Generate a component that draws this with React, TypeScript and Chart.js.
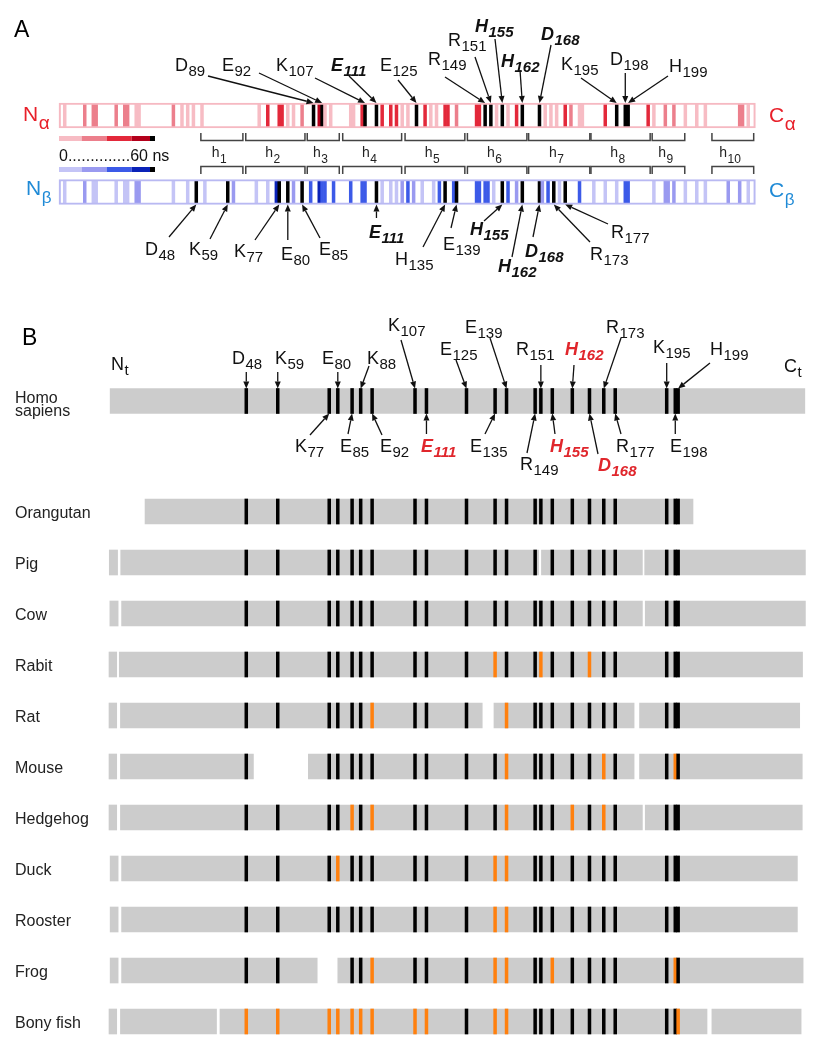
import React, { useEffect, useRef } from "react";
import { Chart, registerables } from "chart.js";

Chart.register(...registerables);

// ---------------- DATA ----------------
// Panel A: per-residue heat levels (0 = white ... 5 = black, ~0..60 ns)
const ALPHA_STRIPES: [number, number][] = [
  [2, 1], [9, 2], [12, 2], [13, 2], [20, 2], [23, 2], [24, 2], [27, 1], [28, 1], [40, 2],
  [43, 1], [45, 1], [47, 1], [50, 1], [70, 1], [73, 3], [77, 3], [78, 3], [80, 1], [82, 1],
  [85, 2], [89, 5], [91, 4], [92, 5], [93, 1], [95, 1], [102, 1], [103, 1], [106, 3], [107, 5],
  [111, 5], [113, 3], [116, 3], [118, 3], [120, 1], [122, 1], [125, 5], [128, 3], [130, 1], [132, 1],
  [135, 3], [136, 3], [139, 2], [146, 3], [147, 3], [149, 5], [151, 5], [153, 1], [155, 5], [157, 1],
  [160, 3], [162, 5], [168, 5], [170, 1], [172, 1], [174, 1], [177, 3], [179, 2], [182, 1], [183, 1],
  [191, 3], [195, 5], [198, 5], [199, 5], [206, 3], [208, 1], [212, 2], [215, 2], [219, 1], [223, 1],
  [226, 1], [238, 2], [239, 2], [241, 1],
];
const BETA_STRIPES: [number, number][] = [
  [2, 1], [9, 2], [12, 1], [13, 1], [20, 1], [23, 1], [24, 1], [27, 2], [28, 2], [40, 1],
  [45, 1], [48, 5], [51, 1], [59, 5], [61, 2], [69, 1], [73, 1], [76, 4], [77, 5], [80, 5],
  [82, 2], [85, 5], [88, 3], [91, 4], [92, 3], [93, 3], [96, 3], [102, 3], [106, 3], [107, 3],
  [111, 5], [113, 1], [116, 1], [118, 1], [120, 2], [122, 3], [124, 2], [127, 1], [131, 1], [133, 3],
  [135, 5], [138, 3], [139, 5], [146, 3], [147, 3], [149, 3], [150, 3], [152, 1], [155, 5], [157, 3],
  [160, 2], [162, 5], [168, 5], [169, 2], [171, 3], [173, 5], [175, 1], [177, 5], [182, 3], [187, 1],
  [191, 1], [195, 1], [198, 3], [199, 3], [208, 1], [212, 2], [213, 2], [215, 2], [219, 1], [223, 1],
  [226, 1], [234, 2], [238, 2], [241, 1],
];
const CHAIN_LENGTH = 243.5;
const HELIX_START = [49.6, 65.3, 86.8, 99.2, 121, 142.8, 164.2, 186, 207.4, 228.3];
const HELIX_END = [64.3, 86, 98, 119.8, 141.9, 163.6, 185.6, 206.7, 218.8, 242.9];

const A_TOP_LABELS = ["D89", "E92", "K107", "E111", "E125", "R149", "R151", "H155", "H162", "D168", "K195", "D198", "H199"];
const A_BOTTOM_LABELS = ["D48", "K59", "K77", "E80", "E85", "E111", "H135", "E139", "H155", "H162", "D168", "R173", "R177"];
const EMPHASIS = ["E111", "H155", "H162", "D168"];

// Panel B
const SPECIES = ["Homo sapiens", "Orangutan", "Pig", "Cow", "Rabit", "Rat", "Mouse", "Hedgehog", "Duck", "Rooster", "Frog", "Bony fish"];
const RESIDUES = [48, 59, 77, 80, 85, 88, 92, 107, 111, 125, 135, 139, 149, 151, 155, 162, 168, 173, 177, 195, 198, 199];
const ORANGE: number[][] = [
  [], [], [], [], [135, 151, 168], [92, 139], [139, 173, 198], [85, 92, 139, 162, 173],
  [80, 135, 139], [135, 139], [92, 135, 139, 155, 198],
  [48, 59, 77, 80, 85, 88, 92, 107, 111, 135, 139, 199],
];
const ABSENT: number[][] = [[], [], [151], [], [], [135], [59], [], [], [], [77, 80], []];
const SEGMENTS: [number, number][][] = [
  [[0.4, 243.3]],
  [[12.6, 204.2]],
  [[0.1, 3.0], [4.1, 150.2], [151.2, 186.5], [187.3, 243.5]],
  [[0.3, 3.2], [4.4, 186.5], [187.5, 243.5]],
  [[0, 2.7], [3.6, 242.5]],
  [[0, 2.7], [4, 130.5], [134.6, 183.6], [185.5, 241.5]],
  [[0, 2.7], [4, 50.5], [69.7, 183.6], [185.5, 242.4]],
  [[0, 2.7], [4, 186.5], [187.5, 242.4]],
  [[0.4, 3.2], [4.4, 240.7]],
  [[0.4, 3.2], [4.4, 240.7]],
  [[0.4, 3.2], [4.4, 72.8], [80, 242.7]],
  [[0, 2.7], [4, 37.6], [38.8, 209.1], [210.8, 242]],
];
const B_TOP_LABELS = ["D48", "K59", "E80", "K88", "K107", "E125", "E139", "R151", "H162", "R173", "K195", "H199"];
const B_BOTTOM_LABELS = ["K77", "E85", "E92", "E111", "E135", "R149", "H155", "D168", "R177", "E198"];

// ---------------- LAYOUT / STYLE ----------------
const FONT = '"Liberation Sans", Arial, Helvetica, sans-serif';
const ALPHA_COLORS = ["#ffffff", "#f7bcc4", "#ec7f8c", "#e3283a", "#b3001b", "#000000"];
const BETA_COLORS = ["#ffffff", "#c4c4f6", "#9a9af0", "#3c5ae8", "#0a22b8", "#000000"];
const ORANGE_C = "#ff800e";
const GRAY = "#cccccc";
const RED_TXT = "#e0262c";

const ROW_ALPHA = -6.765;
const ROW_BETA = -5.265;
const ROW_HOMO = -1.1667;
const rowOf = (i: number) => (i === 0 ? ROW_HOMO : i);

// label layouts: [textX, baselineY, tailX (null = vertical), tailY]
const A_TOP_LAYOUT: (number | null)[][] = [
  [175, 71, 208, 76], [222, 71, 259, 73], [276, 71, 315, 78], [331, 71, 349, 76], [380, 71, 398, 80],
  [428, 65, 445, 77], [448, 46, 475, 57], [475, 32, 495, 39], [501, 67, 520, 70], [541, 40, 551, 45],
  [561, 70, 581, 78], [610, 65, null, 73], [669, 72, 668, 76],
];
const A_BOTTOM_LAYOUT: (number | null)[][] = [
  [145, 255, 169, 237], [189, 255, 210, 239], [234, 257, 255, 240], [281, 260, null, 240], [319, 255, 320, 238],
  [369, 238, null, 218], [395, 265, 423, 247], [443, 250, 451, 228], [470, 235, 484, 221], [498, 272, 512, 257],
  [525, 257, 533, 237], [590, 260, 590, 242], [611, 238, 608, 224],
];
const B_TOP_LAYOUT: (number | null)[][] = [
  [232, 364, null, 372], [275, 364, null, 372], [322, 364, null, 372], [367, 364, 369, 366], [388, 331, 401, 340],
  [440, 355, 456, 360], [465, 333, 490, 338], [516, 355, null, 365], [565, 355, 574, 365], [606, 333, 621, 338],
  [653, 353, null, 363], [710, 355, 710, 363],
];
const B_BOTTOM_LAYOUT: (number | null)[][] = [
  [295, 452, 310, 435], [340, 452, 348, 434], [380, 452, 382, 435], [421, 452, null, 434], [470, 452, 485, 434],
  [520, 470, 527, 453], [550, 452, 555, 434], [598, 471, 598, 454], [616, 452, 621, 434], [670, 452, null, 434],
];

function resLabel(ctx: CanvasRenderingContext2D, x: number, y: number, label: string, emph: boolean, color: string) {
  const letter = label[0];
  const num = label.slice(1);
  const st = emph ? "italic bold " : "";
  ctx.fillStyle = color;
  ctx.font = `${st}18px ${FONT}`;
  ctx.fillText(letter, x, y);
  const w = ctx.measureText(letter).width;
  ctx.font = `${st}15px ${FONT}`;
  ctx.fillText(num, x + w + 0.5, y + 5);
}

function arrow(ctx: CanvasRenderingContext2D, x1: number, y1: number, x2: number, y2: number) {
  const ang = Math.atan2(y2 - y1, x2 - x1);
  const L = 7, W = 3;
  const bx = x2 - L * Math.cos(ang), by = y2 - L * Math.sin(ang);
  ctx.beginPath();
  ctx.moveTo(x1, y1);
  ctx.lineTo(bx, by);
  ctx.stroke();
  ctx.beginPath();
  ctx.moveTo(x2, y2);
  ctx.lineTo(bx + W * Math.sin(ang), by - W * Math.cos(ang));
  ctx.lineTo(bx - W * Math.sin(ang), by + W * Math.cos(ang));
  ctx.closePath();
  ctx.fill();
}

function subText(ctx: CanvasRenderingContext2D, x: number, y: number, main: string, sub: string, size: number, subSize: number, dy: number, color: string) {
  ctx.fillStyle = color;
  ctx.font = `${size}px ${FONT}`;
  ctx.fillText(main, x, y);
  const w = ctx.measureText(main).width;
  ctx.font = `${subSize}px ${FONT}`;
  ctx.fillText(sub, x + w + 0.5, y + dy);
}

const annotPlugin = {
  id: "annot",
  afterDatasetsDraw(chart: any) {
    const ctx: CanvasRenderingContext2D = chart.ctx;
    const xA = chart.scales.xA;
    const xB = chart.scales.xB;
    const y = chart.scales.y;
    ctx.save();
    ctx.textAlign = "left";
    ctx.textBaseline = "alphabetic";

    // panel letters
    ctx.fillStyle = "#000";
    ctx.font = `23px ${FONT}`;
    ctx.fillText("A", 14, 37);
    ctx.fillText("B", 22, 345);

    // chain end labels
    subText(ctx, 23, 121, "N", "\u03b1", 21, 19, 8, "#e8202a");
    subText(ctx, 769, 122, "C", "\u03b1", 21, 19, 8, "#e8202a");
    subText(ctx, 26, 195, "N", "\u03b2", 21, 17, 8, "#1f8ad6");
    subText(ctx, 769, 197, "C", "\u03b2", 21, 17, 8, "#1f8ad6");

    // colour legends
    const segW = [0, 22.7, 47.7, 72.7, 91, 96];
    for (let k = 0; k < 5; k++) {
      ctx.fillStyle = ALPHA_COLORS[k + 1];
      ctx.fillRect(59 + segW[k], 136, segW[k + 1] - segW[k], 5);
      ctx.fillStyle = BETA_COLORS[k + 1];
      ctx.fillRect(59 + segW[k], 167, segW[k + 1] - segW[k], 5);
    }
    ctx.fillStyle = "#111";
    ctx.font = `16px ${FONT}`;
    ctx.fillText("0..............60 ns", 59, 161);

    // helix brackets
    ctx.strokeStyle = "#444";
    ctx.lineWidth = 1.5;
    for (let i = 0; i < HELIX_START.length; i++) {
      const a = xA.getPixelForValue(HELIX_START[i]);
      const b = xA.getPixelForValue(HELIX_END[i]);
      ctx.beginPath();
      ctx.moveTo(a, 133); ctx.lineTo(a, 140.5); ctx.lineTo(b, 140.5); ctx.lineTo(b, 133);
      ctx.moveTo(a, 174); ctx.lineTo(a, 166.5); ctx.lineTo(b, 166.5); ctx.lineTo(b, 174);
      ctx.stroke();
      const c = (a + b) / 2;
      ctx.font = `14px ${FONT}`;
      const wh = ctx.measureText("h").width;
      ctx.font = `12px ${FONT}`;
      const ws = ctx.measureText(String(i + 1)).width;
      const left = c - (wh + ws) / 2 - 3;
      subText(ctx, left, 157, "h", String(i + 1), 14, 12, 6, "#222");
    }

    // panel A labels & arrows
    ctx.strokeStyle = "#111";
    ctx.fillStyle = "#111";
    ctx.lineWidth = 1.3;
    const aTop = y.getPixelForValue(ROW_ALPHA) - 12.5;
    const bBot = y.getPixelForValue(ROW_BETA) + 12.5;
    A_TOP_LABELS.forEach((lab, i) => {
      const [tx, ty, ax, ay] = A_TOP_LAYOUT[i];
      const r = parseInt(lab.slice(1), 10);
      const px = xA.getPixelForValue(r);
      ctx.fillStyle = "#111";
      arrow(ctx, ax === null ? px : (ax as number), ay as number, px, aTop);
      resLabel(ctx, tx as number, ty as number, lab, EMPHASIS.includes(lab), "#111");
    });
    A_BOTTOM_LABELS.forEach((lab, i) => {
      const [tx, ty, ax, ay] = A_BOTTOM_LAYOUT[i];
      const r = parseInt(lab.slice(1), 10);
      const px = xA.getPixelForValue(r);
      ctx.fillStyle = "#111";
      arrow(ctx, ax === null ? px : (ax as number), ay as number, px, bBot);
      resLabel(ctx, tx as number, ty as number, lab, EMPHASIS.includes(lab), "#111");
    });

    // panel B
    subText(ctx, 111, 370, "N", "t", 18, 15, 5, "#111");
    subText(ctx, 784, 372, "C", "t", 18, 15, 5, "#111");
    const hTop = y.getPixelForValue(ROW_HOMO) - 12.5;
    const hBot = y.getPixelForValue(ROW_HOMO) + 12.5;
    B_TOP_LABELS.forEach((lab, i) => {
      const [tx, ty, ax, ay] = B_TOP_LAYOUT[i];
      const r = parseInt(lab.slice(1), 10);
      const px = xB.getPixelForValue(r);
      ctx.fillStyle = "#111";
      arrow(ctx, ax === null ? px : (ax as number), ay as number, px, hTop);
      const emph = EMPHASIS.includes(lab);
      resLabel(ctx, tx as number, ty as number, lab, emph, emph ? RED_TXT : "#111");
    });
    B_BOTTOM_LABELS.forEach((lab, i) => {
      const [tx, ty, ax, ay] = B_BOTTOM_LAYOUT[i];
      const r = parseInt(lab.slice(1), 10);
      const px = xB.getPixelForValue(r);
      ctx.fillStyle = "#111";
      arrow(ctx, ax === null ? px : (ax as number), ay as number, px, hBot);
      const emph = EMPHASIS.includes(lab);
      resLabel(ctx, tx as number, ty as number, lab, emph, emph ? RED_TXT : "#111");
    });

    // species labels
    ctx.fillStyle = "#222";
    ctx.font = `16px ${FONT}`;
    SPECIES.forEach((name, i) => {
      const cy = y.getPixelForValue(rowOf(i));
      if (i === 0) {
        ctx.fillText("Homo", 15, cy + 2);
        ctx.fillText("sapiens", 15, cy + 15);
      } else {
        ctx.fillText(name, 15, cy + 6.5);
      }
    });
    ctx.restore();
  },
};

function buildDatasets() {
  const ds: any[] = [];
  // outlines of panel A chains (drawn on top)
  ds.push({
    label: "outline",
    xAxisID: "xA",
    yAxisID: "y",
    data: [
      { x: [0, CHAIN_LENGTH], y: ROW_ALPHA },
      { x: [0, CHAIN_LENGTH], y: ROW_BETA },
    ],
    backgroundColor: "rgba(0,0,0,0)",
    borderColor: ["#f6b9c2", "#b9b9f2"],
    borderWidth: 1.5,
    borderSkipped: false,
    barThickness: 25,
    grouped: false,
    order: 0,
  });
  ds.push({
    label: "alpha",
    xAxisID: "xA",
    yAxisID: "y",
    data: ALPHA_STRIPES.map(([r]) => ({ x: [r - 0.5, r + 0.5], y: ROW_ALPHA })),
    backgroundColor: ALPHA_STRIPES.map(([, l]) => ALPHA_COLORS[l]),
    borderWidth: 0,
    barThickness: 23,
    grouped: false,
    order: 1,
  });
  ds.push({
    label: "beta",
    xAxisID: "xA",
    yAxisID: "y",
    data: BETA_STRIPES.map(([r]) => ({ x: [r - 0.5, r + 0.5], y: ROW_BETA })),
    backgroundColor: BETA_STRIPES.map(([, l]) => BETA_COLORS[l]),
    borderWidth: 0,
    barThickness: 23,
    grouped: false,
    order: 1,
  });
  // species marks
  const markData: any[] = [];
  const markColors: string[] = [];
  SPECIES.forEach((_, i) => {
    RESIDUES.forEach((r) => {
      if (ABSENT[i].includes(r)) return;
      markData.push({ x: [r - 0.5, r + 0.5], y: rowOf(i) });
      markColors.push(ORANGE[i].includes(r) ? ORANGE_C : "#000000");
    });
  });
  ds.push({
    label: "marks",
    xAxisID: "xB",
    yAxisID: "y",
    data: markData,
    backgroundColor: markColors,
    borderWidth: 0,
    barThickness: 25,
    grouped: false,
    order: 2,
  });
  const segData: any[] = [];
  SEGMENTS.forEach((segs, i) => segs.forEach(([a, b]) => segData.push({ x: [a, b], y: rowOf(i) })));
  ds.push({
    label: "segments",
    xAxisID: "xB",
    yAxisID: "y",
    data: segData,
    backgroundColor: GRAY,
    borderWidth: 0,
    barThickness: 25,
    grouped: false,
    order: 3,
  });
  return ds;
}

export default function App() {
  const ref = useRef<HTMLCanvasElement>(null);
  useEffect(() => {
    const canvas = ref.current;
    if (!canvas) return;
    const chart = new Chart(canvas, {
      type: "bar",
      data: { datasets: buildDatasets() },
      options: {
        indexAxis: "y",
        responsive: false,
        animation: false,
        devicePixelRatio: 1,
        events: [],
        layout: { padding: 0 },
        plugins: {
          legend: { display: false },
          tooltip: { enabled: false },
          title: { display: false },
        },
        scales: {
          xA: { type: "linear", axis: "x", offset: false, bounds: "data", min: -59 / 2.86, max: (816 - 59) / 2.86, display: false },
          xB: { type: "linear", axis: "x", offset: false, bounds: "data", min: -109 / 2.86, max: (816 - 109) / 2.86, display: false },
          y: { type: "linear", offset: false, bounds: "data", min: -460.5 / 51, max: (1050 - 460.5) / 51, reverse: true, display: false },
        },
      } as any,
      plugins: [annotPlugin],
    } as any);
    return () => chart.destroy();
  }, []);
  return (
    <div style={{ position: "absolute", left: 0, top: 0, width: 816, height: 1050, background: "#fff" }}>
      <canvas ref={ref} width={816} height={1050} style={{ display: "block", width: 816, height: 1050 }} />
    </div>
  );
}
